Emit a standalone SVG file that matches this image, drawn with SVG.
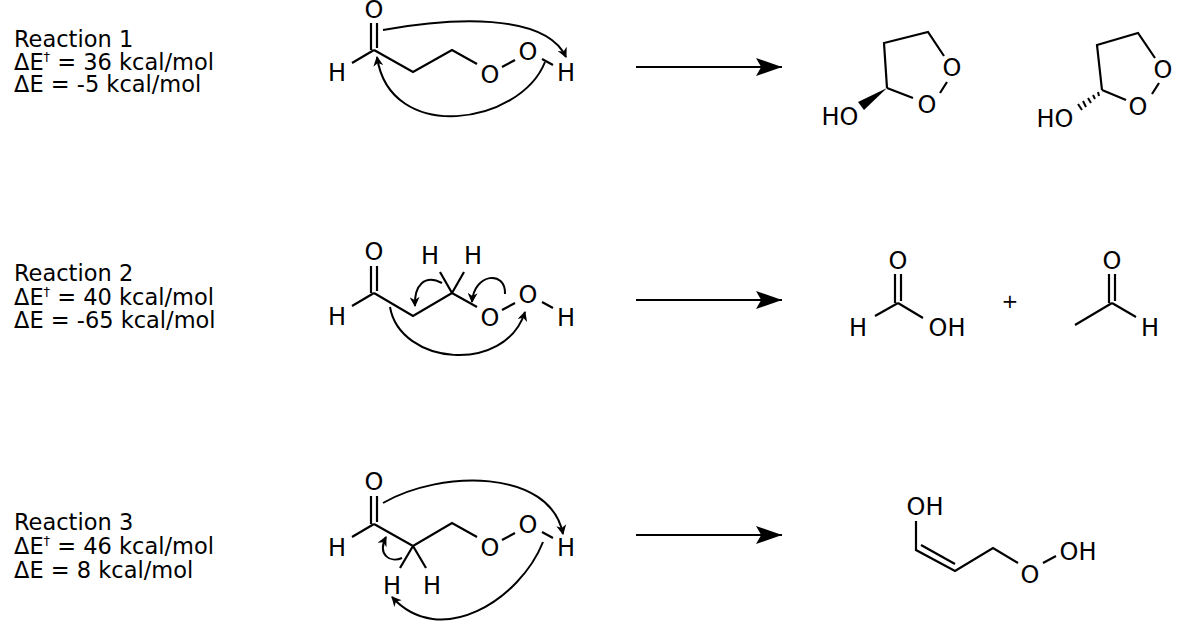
<svg xmlns="http://www.w3.org/2000/svg" width="1200" height="630" viewBox="0 0 1200 630">
<style>
.lbl{font-family:"DejaVu Sans",sans-serif;font-size:22.5px;fill:#000}
.at{font-family:"DejaVu Sans",sans-serif;font-size:24px;fill:#000;text-anchor:middle;dominant-baseline:central}
.b{stroke:#000;stroke-width:2.2;fill:none}
.c{stroke:#000;stroke-width:2;fill:none}
</style>
<defs>
<marker id="ah" viewBox="0 0 10 10" refX="9" refY="5" markerWidth="12" markerHeight="10" orient="auto" markerUnits="userSpaceOnUse"><path d="M0,0 L10,5 L0,10 L3,5 z" fill="#000"/></marker>
<marker id="big" viewBox="0 0 10 10" refX="10" refY="5" markerWidth="26" markerHeight="18" orient="auto" markerUnits="userSpaceOnUse" preserveAspectRatio="none"><path d="M0,0 L10,5 L0,10 L2,5 z" fill="#000"/></marker>
</defs>
<g id="labels">
<text class="lbl" x="14" y="47">Reaction 1</text>
<text class="lbl" x="14" y="70">ΔE<tspan dy="-9" font-size="13">†</tspan><tspan dy="9"> = 36 kcal/mol</tspan></text>
<text class="lbl" x="14" y="92">ΔE = -5 kcal/mol</text>
<text class="lbl" x="14" y="281">Reaction 2</text>
<text class="lbl" x="14" y="305">ΔE<tspan dy="-9" font-size="13">†</tspan><tspan dy="9"> = 40 kcal/mol</tspan></text>
<text class="lbl" x="14" y="328">ΔE = -65 kcal/mol</text>
<text class="lbl" x="14" y="530">Reaction 3</text>
<text class="lbl" x="14" y="554">ΔE<tspan dy="-9" font-size="13">†</tspan><tspan dy="9"> = 46 kcal/mol</tspan></text>
<text class="lbl" x="14" y="578">ΔE = 8 kcal/mol</text>
</g>
<g id="reactant1">
<text class="at" x="374" y="10">O</text>
<path class="b" d="M371,23 V50 M377,23 V48 M374,50 L352,63 M374,50 L413,72 L452,50 L477,64 M502,67 L515,60 M542,59 L553,65"/>
<text class="at" x="337" y="73">H</text><text class="at" x="490" y="75">O</text><text class="at" x="528" y="52">O</text><text class="at" x="566" y="73">H</text>
</g>
<g id="reactant2">
<text class="at" x="374" y="252">O</text>
<path class="b" d="M371,266 V293 M377,266 V291 M374,293 L352,306 M374,293 L413,316 L452,293 L477,307 M452,293 L440,272 M452,293 L464,272 M502,310 L515,303 M542,302 L553,308"/>
<text class="at" x="337" y="317">H</text><text class="at" x="490" y="318">O</text><text class="at" x="528" y="295">O</text><text class="at" x="566" y="318">H</text>
<text class="at" x="430" y="256">H</text><text class="at" x="473" y="256">H</text>
</g>
<g id="reactant3">
<text class="at" x="374" y="482">O</text>
<path class="b" d="M371,496 V524 M377,496 V522 M374,524 L352,537 M374,524 L413,546 L452,523 L477,537 M413,546 L400,568 M413,546 L426,568 M502,540 L515,533 M542,532 L553,538"/>
<text class="at" x="337" y="548">H</text><text class="at" x="490" y="548">O</text><text class="at" x="528" y="525">O</text><text class="at" x="566" y="548">H</text>
<text class="at" x="392" y="586">H</text><text class="at" x="432" y="586">H</text>
</g>
<g id="product1a">
<path class="b" d="M887,88 L884,43 L928,32 L944,56 M947,82 L940,93 M887,88 L913,98"/>
<path d="M887,88 L858,102 L864,110 z" fill="#000"/>
<text class="at" x="952" y="68">O</text><text class="at" x="927" y="105">O</text><text class="at" x="840" y="117">HO</text>
</g>
<g id="product1b">
<path class="b" d="M1102,90 L1097,45 L1138,33 L1155,58 M1159,83 L1152,94 M1102,90 L1126,100"/>
<path class="c" d="M1098,92 L1099,96 M1093,95 L1095,99 M1088,98 L1091,103 M1083,101 L1086,107 M1078,104 L1082,110"/>
<text class="at" x="1163" y="70">O</text><text class="at" x="1138" y="107">O</text><text class="at" x="1055" y="119">HO</text>
</g>
<g id="product2a">
<text class="at" x="898" y="261">O</text>
<path class="b" d="M895,274 V303 M901,274 V301 M898,303 L875,316 M898,303 L923,318"/>
<text class="at" x="858" y="328">H</text><text class="at" x="947" y="328">OH</text>
</g>
<text class="at" x="1010" y="301" style="font-size:20px">+</text>
<g id="product2b">
<text class="at" x="1112" y="261">O</text>
<path class="b" d="M1109,274 V303 M1115,274 V301 M1112,303 L1075,325 M1112,303 L1136,317"/>
<text class="at" x="1150" y="328">H</text>
</g>
<g id="product3">
<text class="at" x="925" y="507">OH</text>
<path class="b" d="M916,521 V550 L955,571 L993,548 L1018,563 M921,545 L955,564 M1043,563 L1056,556"/>
<text class="at" x="1030" y="575">O</text><text class="at" x="1078" y="552">OH</text>
</g>
<g id="connectors">
<path class="c" d="M383,30 C450,18 545,12 566,57" marker-end="url(#ah)"/>
<path class="c" d="M545,62 C520,125 390,145 377,57" marker-end="url(#ah)"/>
<path class="c" d="M442,283 C425,274 414,285 415,306" marker-end="url(#ah)"/>
<path class="c" d="M505,294 C506,270 474,273 472,302" marker-end="url(#ah)"/>
<path class="c" d="M390,307 C400,365 505,375 525,312" marker-end="url(#ah)"/>
<path class="c" d="M402,558 C390,563 377,555 386,537" marker-end="url(#ah)"/>
<path class="c" d="M383,503 C440,470 550,468 563,534" marker-end="url(#ah)"/>
<path class="c" d="M543,542 C520,600 440,650 392,597" marker-end="url(#ah)"/>
<path class="c" d="M636,67 H782" marker-end="url(#big)"/>
<path class="c" d="M636,300 H782" marker-end="url(#big)"/>
<path class="c" d="M636,535 H782" marker-end="url(#big)"/>
</g>
</svg>
